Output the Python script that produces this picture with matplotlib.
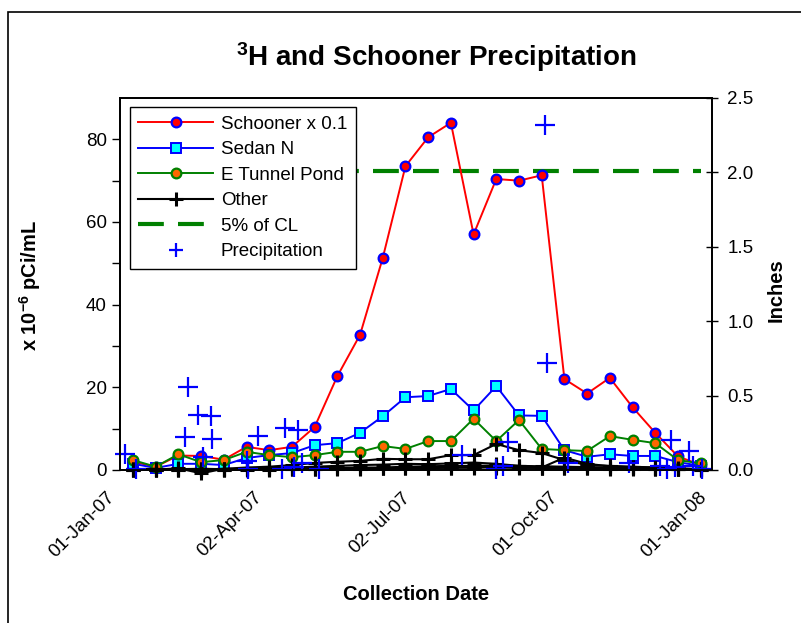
import datetime as dt
import matplotlib
matplotlib.use("Agg")
import matplotlib.pyplot as plt
import matplotlib.dates as mdates
from matplotlib.patches import Rectangle
from matplotlib.transforms import ScaledTranslation

plt.rcParams['font.family'] = ['Liberation Sans', 'DejaVu Sans']
plt.rcParams['mathtext.fontset'] = 'custom'
plt.rcParams['mathtext.rm'] = 'Liberation Sans'
plt.rcParams['mathtext.bf'] = 'Liberation Sans:bold'
plt.rcParams['mathtext.default'] = 'bf'

# sampling dates (biweekly)
sample_dates = ['2007-01-09', '2007-01-23', '2007-02-06', '2007-02-20', '2007-03-06',
                '2007-03-20', '2007-04-03', '2007-04-17', '2007-05-01', '2007-05-15',
                '2007-05-29', '2007-06-12', '2007-06-26', '2007-07-10', '2007-07-24',
                '2007-08-07', '2007-08-21', '2007-09-04', '2007-09-18', '2007-10-02',
                '2007-10-16', '2007-10-30', '2007-11-13', '2007-11-27', '2007-12-11',
                '2007-12-25']

schooner = [2.0, 0.8, 3.5, 3.4, 2.5, 5.6, 4.8, 5.6, 10.4, 22.7, 32.7, 51.3, 73.5,
            80.5, 84.0, 57.0, 70.4, 70.0, 71.3, 22.0, 18.5, 22.3, 15.2, 9.0, 3.3, 1.2]
sedan_n = [1.5, 0.5, 1.5, 1.5, 1.2, 2.9, 3.6, 4.1, 6.0, 6.5, 9.0, 13.0, 17.6,
           17.9, 19.6, 14.4, 20.3, 13.2, 13.1, 4.8, 3.2, 3.8, 3.4, 3.4, 1.9, 1.0]
e_tunnel = [2.4, 0.8, 3.8, 1.9, 2.4, 4.4, 3.6, 3.1, 3.6, 4.4, 4.4, 5.8, 5.1,
            7.0, 7.0, 12.4, 7.0, 12.1, 5.1, 4.8, 4.6, 8.2, 7.3, 6.5, 2.4, 1.6]
other1 = [0.3, 0.1, 0.4, -0.8, 0.3, 0.6, 0.8, 1.2, 1.7, 2.0, 2.2, 2.7, 2.6,
          2.6, 3.6, 3.6, 6.3, 4.8, 4.1, 2.4, 1.2, 1.0, 0.8, 0.6, 0.4, 0.2]
other2 = [0.1, 0.0, 0.2, 0.3, 0.2, 0.3, 0.5, 0.6, 0.8, 1.0, 1.2, 1.3, 1.5,
          1.4, 1.6, 1.8, 1.5, 1.0, 0.6, 3.0, 1.5, 0.9, 0.7, 0.6, 0.3, 0.2]
other3 = [0.0, 0.2, 0.1, 0.2, 0.0, 0.2, 0.3, 0.3, 0.4, 0.5, 0.6, 0.6, 0.8,
          0.9, 1.0, 1.0, 1.1, 1.0, 0.9, 0.8, 0.7, 0.6, 0.5, 0.4, 0.2, 0.1]
other4 = [0.2, 0.3, 0.0, 0.1, 0.3, 0.1, 0.2, 0.4, 0.3, 0.4, 0.3, 0.5, 0.4,
          0.6, 0.5, 0.7, 0.6, 0.5, 0.5, 0.4, 0.4, 0.3, 0.3, 0.2, 0.3, 0.1]
other5 = [0.1, 0.1, 0.3, 0.0, 0.1, 0.2, 0.1, 0.2, 0.2, 0.3, 0.4, 0.4, 0.5,
          0.4, 0.6, 0.5, 0.8, 0.7, 0.6, 0.5, 0.4, 0.5, 0.4, 0.3, 0.2, 0.2]
cl_5pct = 72.3

precip_dates = ['2007-01-04', '2007-01-11', '2007-02-10', '2007-02-12', '2007-02-18',
                '2007-02-21', '2007-02-26', '2007-02-27', '2007-03-20', '2007-03-21',
                '2007-03-27', '2007-04-11', '2007-04-13', '2007-04-18', '2007-04-21',
                '2007-04-23', '2007-05-04', '2007-07-31', '2007-08-21', '2007-08-25',
                '2007-08-28', '2007-09-20', '2007-09-21', '2007-10-04', '2007-11-11',
                '2007-11-30', '2007-12-04', '2007-12-07', '2007-12-09', '2007-12-18',
                '2007-12-20', '2007-12-26']
precip = [0.11, 0.01, 0.22, 0.56, 0.37, 0.09, 0.36, 0.21, 0.06, 0.01,
          0.23, 0.01, 0.28, 0.02, 0.27, 0.05, 0.01, 0.10, 0.01, 0.03,
          0.19, 2.32, 0.72, 0.05, 0.05, 0.03, 0.01, 0.20, 0.02, 0.13,
          0.03, 0.01]

tick_dates = ['2007-01-01', '2007-04-02', '2007-07-02', '2007-10-01', '2008-01-01']

to_dt = lambda lst: [dt.datetime.strptime(s, '%Y-%m-%d') for s in lst]
sd = to_dt(sample_dates)
pd_ = to_dt(precip_dates)
td = to_dt(tick_dates)

fig = plt.figure(figsize=(8.01, 6.23), dpi=100)
ax = fig.add_axes([120/801, 1-470/623, 592/801, 372/623])
ax2 = ax.twinx()

ax.plot(sd, schooner, color='red', lw=1.4, marker='o', ms=7, mfc='red',
        mec='blue', mew=1.6, label='Schooner x 0.1', clip_on=False, zorder=3)
ax.plot(sd, sedan_n, color='blue', lw=1.4, marker='s', ms=7, mfc='cyan',
        mec='blue', mew=1.4, label='Sedan N', clip_on=False, zorder=3)
ax.plot(sd, e_tunnel, color='green', lw=1.4, marker='o', ms=7, mfc='#ff6600',
        mec='green', mew=1.6, label='E Tunnel Pond', clip_on=False, zorder=3)
for i, oth in enumerate([other1, other2, other3, other4, other5]):
    ax.plot(sd, oth, color='black', lw=1.5, marker='+', ms=10, mew=2.2,
            label='Other' if i == 0 else '_nolegend_', clip_on=False, zorder=4)
ax.plot([sd[0], sd[-1]], [cl_5pct, cl_5pct], color='green', lw=3,
        dashes=(6.2, 3.4), label='5% of CL', zorder=2)

ax2.plot(pd_, precip, ls='none', marker='+', ms=15, mew=1.6, color='blue',
         label='Precipitation', clip_on=False)

ax.set_xlim(dt.datetime(2007, 1, 1), dt.datetime(2008, 1, 1))
ax.set_ylim(0, 90)
ax2.set_ylim(0, 2.5)

ax.set_xticks(td)
ax.xaxis.set_major_formatter(mdates.DateFormatter('%d-%b-%y'))
ax.tick_params(axis='x', length=0, pad=0, labelsize=13.5)
off = ScaledTranslation(-8/100, -25/100, fig.dpi_scale_trans)
for lbl in ax.get_xticklabels():
    lbl.set_rotation(45)
    lbl.set_ha('right')
    lbl.set_va('center')
    lbl.set_rotation_mode('anchor')
    lbl.set_transform(lbl.get_transform() + off)

ax.set_yticks([0, 20, 40, 60, 80])
ax.set_yticks([10, 30, 50, 70], minor=True)
ax.tick_params(axis='y', which='both', direction='out', length=6, width=1, labelsize=13.5)
ax2.set_yticks([0, 0.5, 1.0, 1.5, 2.0, 2.5])
ax2.set_yticklabels(['0.0', '0.5', '1.0', '1.5', '2.0', '2.5'])
ax2.tick_params(axis='y', direction='inout', length=8, width=1, pad=7, labelsize=13.5)

for a in (ax, ax2):
    for sp in a.spines.values():
        sp.set_linewidth(1.3)

h1, l1 = ax.get_legend_handles_labels()
h2, l2 = ax2.get_legend_handles_labels()
leg = ax2.legend(h1 + h2, l1 + l2, loc='upper left',
                 bbox_to_anchor=(130/801, 1-107/623), bbox_transform=fig.transFigure,
                 borderaxespad=0, fontsize=13.5, frameon=True, fancybox=False,
                 edgecolor='black', framealpha=1, handlelength=4.0,
                 handletextpad=0.4, labelspacing=0.45, borderpad=0.45)
leg.get_frame().set_linewidth(1)
leg.legend_handles[5].set_markersize(10)

fig.text(436/801, 1-57/623, r'$^{3}$H and Schooner Precipitation', ha='center',
         va='center', fontsize=20, fontweight='bold')
fig.text(416/801, 1-595/623, 'Collection Date', ha='center', va='center',
         fontsize=14.5, fontweight='bold')
fig.text(30/801, 1-285/623, r'x 10$^{-6}$ pCi/mL', ha='center', va='center',
         rotation=90, fontsize=14.5, fontweight='bold')
fig.text(776/801, 1-290/623, 'Inches', ha='center', va='center',
         rotation=90, fontsize=14.5, fontweight='bold')

fig.add_artist(Rectangle((8/801, -0.1), 1.2, 1.1 - 12/623, transform=fig.transFigure,
                         fill=False, lw=1.2, edgecolor='black', clip_on=False))

fig.savefig('out.png', dpi=100)
